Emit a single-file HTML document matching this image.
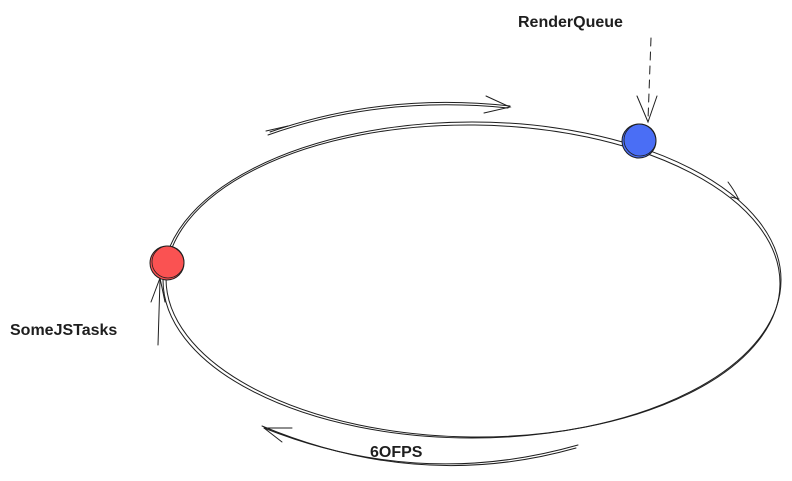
<!DOCTYPE html>
<html><head><meta charset="utf-8"><style>
html,body{margin:0;padding:0;background:#fff;}
svg{display:block}
text{font-family:"Liberation Sans",sans-serif;font-size:16px;fill:#1e1e1e;font-weight:600}
</style></head><body>
<svg width="792" height="481" viewBox="0 0 792 481" xmlns="http://www.w3.org/2000/svg">
<g fill="none" stroke="#1e1e1e" stroke-width="1" stroke-linecap="round">
  <ellipse cx="472" cy="280" rx="309" ry="158"/>
  <ellipse cx="473" cy="281" rx="307" ry="156" transform="rotate(0.6 473 281)"/>
  <path d="M268 135 Q380 95 508 108"/>
  <path d="M270 132 Q385 92 510 106"/>
  <path d="M486 96 L510 107 L484 113"/>
  <path d="M266 131 L288 126"/>
  <path d="M728 182 Q734 190 738 198"/>
  <path d="M731 197 L739 199"/>
  <path d="M578 445 Q420 490 264 428"/>
  <path d="M576 448 Q420 492 262 426"/>
  <path d="M264 428 L292 428"/>
  <path d="M264 428 L282 442"/>
  <path d="M651 38 L648 120" stroke-dasharray="8 6"/>
  <path d="M637 96 L648 122 L657 96"/>
  <path d="M158 345 L160 280"/>
  <path d="M151 302 L160 278 L165 302"/>
</g>
<circle cx="639" cy="141" r="17" fill="#4a6ef5" stroke="#1e1e1e" stroke-width="1"/>
<circle cx="640" cy="140" r="16" fill="none" stroke="#1e1e1e" stroke-width="0.8"/>
<circle cx="167" cy="263" r="17" fill="#fa5252" stroke="#1e1e1e" stroke-width="1"/>
<circle cx="168" cy="262" r="16" fill="none" stroke="#1e1e1e" stroke-width="0.8"/>
<text x="518" y="27">RenderQueue</text>
<text x="10" y="335">SomeJSTasks</text>
<text x="370" y="457">6OFPS</text>
</svg>
</body></html>
